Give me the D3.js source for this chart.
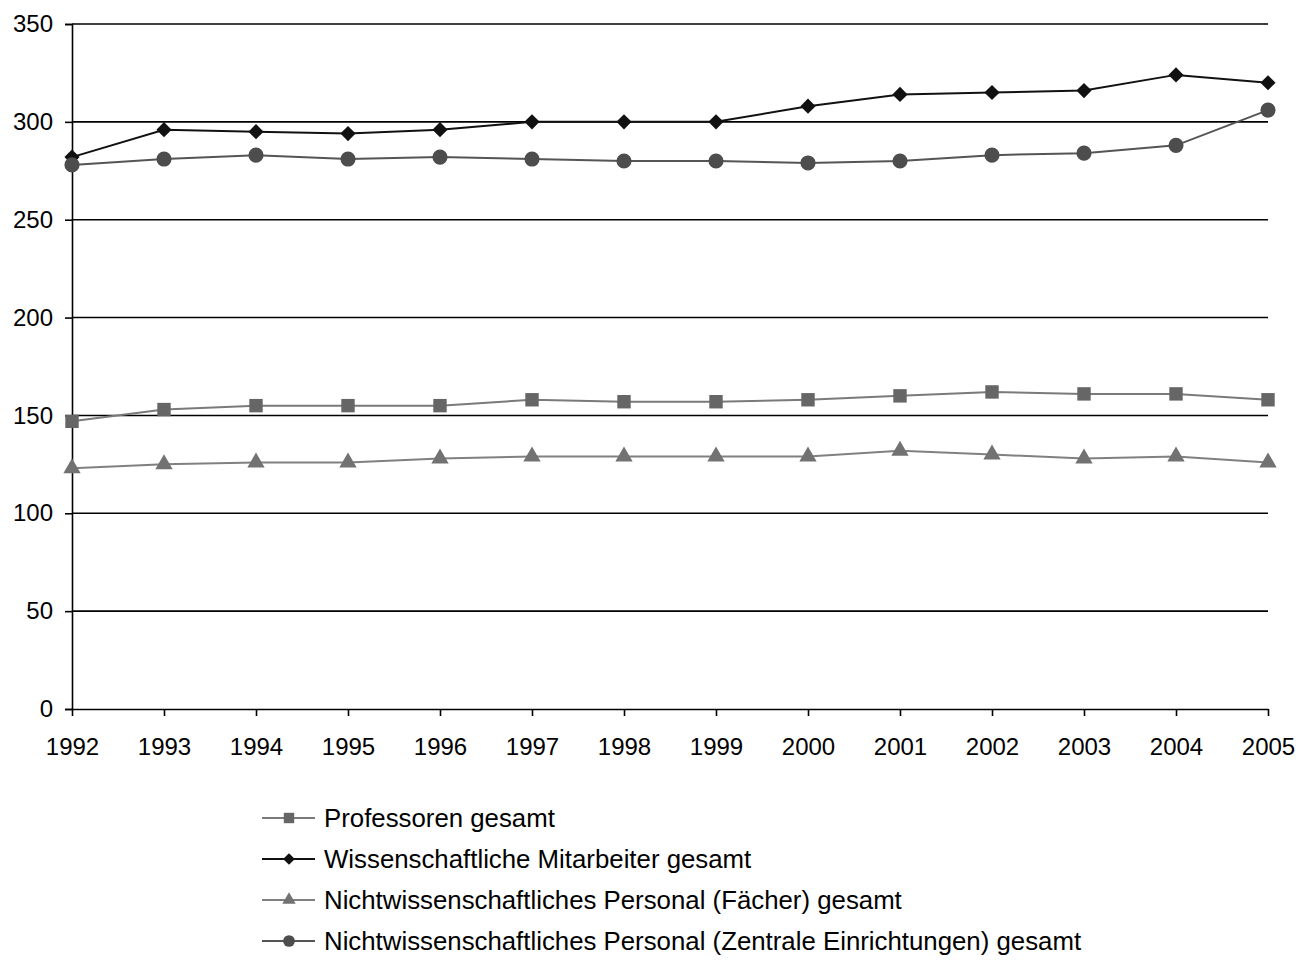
<!DOCTYPE html>
<html>
<head>
<meta charset="utf-8">
<script src="https://cdn.jsdelivr.net/npm/d3@7"></script>
<style>
  body { margin: 0; background: #fff; }
  text { font-family: "Liberation Sans", Arial, sans-serif; fill: #000; }
</style>
</head>
<body>
<svg id="chart" width="1299" height="961"></svg>
<script>
// data
var years = [1992, 1993, 1994, 1995, 1996, 1997, 1998, 1999, 2000, 2001, 2002, 2003, 2004, 2005];
var professoren = [147, 153, 155, 155, 155, 158, 157, 157, 158, 160, 162, 161, 161, 158];
var wissMitarbeiter = [282, 296, 295, 294, 296, 300, 300, 300, 308, 314, 315, 316, 324, 320];
var nichtwissFaecher = [123, 125, 126, 126, 128, 129, 129, 129, 129, 132, 130, 128, 129, 126];
var nichtwissZentral = [278, 281, 283, 281, 282, 281, 280, 280, 279, 280, 283, 284, 288, 306];
var yTicks = [0, 50, 100, 150, 200, 250, 300, 350];

var series = [
  {name: "Professoren gesamt", values: professoren, line: "#7a7a7a", fill: "#666666", sym: d3.symbolSquare, size: 180, rot: 0},
  {name: "Wissenschaftliche Mitarbeiter gesamt", values: wissMitarbeiter, line: "#111111", fill: "#111111", sym: d3.symbolSquare, size: 115, rot: 45},
  {name: "Nichtwissenschaftliches Personal (Fächer) gesamt", values: nichtwissFaecher, line: "#808080", fill: "#727272", sym: d3.symbolTriangle, size: 130, rot: 0},
  {name: "Nichtwissenschaftliches Personal (Zentrale Einrichtungen) gesamt", values: nichtwissZentral, line: "#555555", fill: "#4d4d4d", sym: d3.symbolCircle, size: 180, rot: 0}
];

var svg = d3.select("#chart");
var margin = {top: 24, left: 72, right: 31, bottom: 252};
var width = 1299 - margin.left - margin.right,
    height = 961 - margin.top - margin.bottom;

var g = svg.append("g").attr("transform", "translate(" + margin.left + "," + margin.top + ")");

var x = d3.scalePoint().domain(years).range([0, width]);
var y = d3.scaleLinear().domain([0, 350]).range([height, 0]);

// horizontal grid lines
g.selectAll(".grid").data(yTicks.filter(function(d) { return d > 0; }))
  .enter().append("line")
  .attr("x1", 0).attr("x2", width)
  .attr("y1", function(d) { return y(d); }).attr("y2", function(d) { return y(d); })
  .attr("stroke", "#000").attr("stroke-width", 1.6);

// y axis
var yAxis = g.append("g").call(d3.axisLeft(y).tickValues(yTicks).tickSize(7).tickPadding(12));
yAxis.selectAll("text").style("font-size", "24px");
yAxis.selectAll("line, path").attr("stroke", "#000").attr("stroke-width", 1.6);

// x axis
var xAxis = g.append("g").attr("transform", "translate(0," + height + ")")
  .call(d3.axisBottom(x).tickSize(7).tickPadding(22).tickSizeOuter(0));
xAxis.selectAll("text").style("font-size", "24px");
xAxis.selectAll("line, path").attr("stroke", "#000").attr("stroke-width", 1.6);

var line = d3.line()
  .x(function(d, i) { return x(years[i]); })
  .y(function(d) { return y(d); });

series.forEach(function(s) {
  g.append("path").datum(s.values)
    .attr("d", line).attr("fill", "none")
    .attr("stroke", s.line).attr("stroke-width", 2);
  g.selectAll(null).data(s.values).enter().append("path")
    .attr("transform", function(d, i) { return "translate(" + x(years[i]) + "," + y(d) + ") rotate(" + s.rot + ")"; })
    .attr("d", d3.symbol().type(s.sym).size(s.size))
    .attr("fill", s.fill);
});

// legend
var legend = svg.append("g").attr("transform", "translate(262,818)");
var row = legend.selectAll("g").data(series).enter().append("g")
  .attr("transform", function(d, i) { return "translate(0," + (i * 41) + ")"; });
row.append("line").attr("x1", 0).attr("x2", 53).attr("y1", 0).attr("y2", 0)
  .attr("stroke", function(d) { return d.line; }).attr("stroke-width", 2);
row.append("path").attr("transform", function(d) { return "translate(27,0) rotate(" + d.rot + ")"; })
  .attr("d", function(d) { return d3.symbol().type(d.sym).size(d.size * 0.6)(); })
  .attr("fill", function(d) { return d.fill; });
row.append("text").attr("x", 62).attr("y", 0).attr("dy", "0.35em")
  .style("font-size", "25.8px").text(function(d) { return d.name; });
</script>
</body>
</html>
